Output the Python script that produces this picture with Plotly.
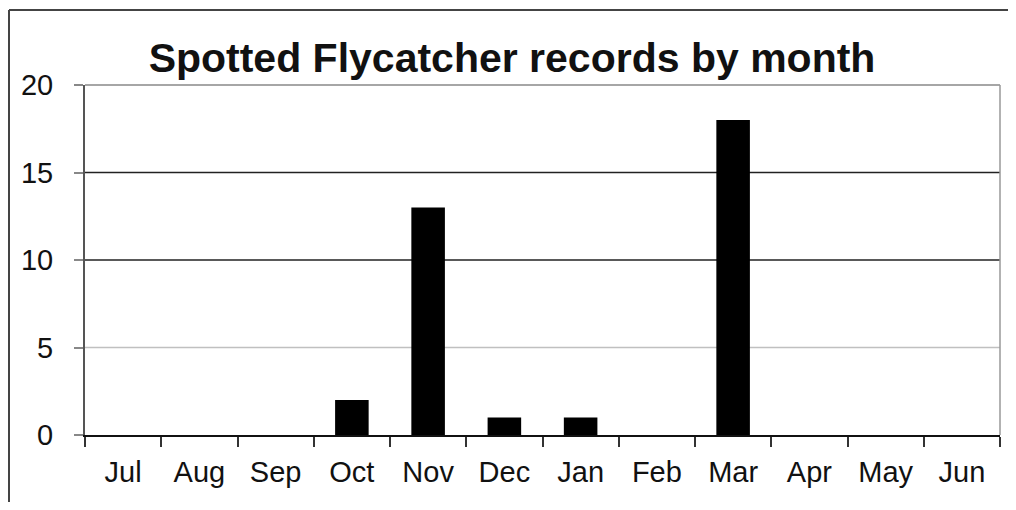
import plotly.graph_objects as go

months = ["Jul", "Aug", "Sep", "Oct", "Nov", "Dec", "Jan", "Feb", "Mar", "Apr", "May", "Jun"]
records = [0, 0, 0, 2, 13, 1, 1, 0, 18, 0, 0, 0]
y_ticks = [0, 5, 10, 15, 20]
dark_grid = [10, 15]
light_grid = [5]

# page has an 8px body margin; figure sized to fit the 1016x510 window
W, H = 1000, 494
ML, MR, MT, MB = 77, 8, 77, 67
pw, ph = W - ML - MR, H - MT - MB

fig = go.Figure(go.Bar(
    x=months, y=records,
    marker=dict(color="black", line=dict(width=0)),
    width=0.44,
))

shapes = []
for v in dark_grid:
    shapes.append(dict(type="line", xref="paper", yref="y", x0=0, x1=1, y0=v, y1=v,
                       line=dict(color="#222", width=1.5), layer="below"))
for v in light_grid:
    shapes.append(dict(type="line", xref="paper", yref="y", x0=0, x1=1, y0=v, y1=v,
                       line=dict(color="#c0c0c0", width=1.5), layer="below"))
# plot area top/right border (gray)
shapes.append(dict(type="line", xref="paper", yref="paper", x0=0, x1=1, y0=1, y1=1,
                   line=dict(color="#888", width=1.5), layer="below"))
shapes.append(dict(type="line", xref="paper", yref="paper", x0=1, x1=1, y0=0, y1=1,
                   line=dict(color="#999", width=1.5), layer="below"))
# outer chart border (left and top, cropped)
bx = (1 - ML) / pw
by = 1 + (MT - 2) / ph
shapes.append(dict(type="line", xref="paper", yref="paper", x0=bx, x1=bx, y0=-1, y1=by,
                   line=dict(color="#444", width=2)))
shapes.append(dict(type="line", xref="paper", yref="paper", x0=bx, x1=1.2, y0=by, y1=by,
                   line=dict(color="#444", width=2)))

fig.update_layout(
    width=W, height=H,
    margin=dict(l=ML, r=MR, t=MT, b=MB),
    paper_bgcolor="white", plot_bgcolor="white",
    showlegend=False,
    font=dict(family="Liberation Sans, Arial, sans-serif", color="#111", size=29),
    title=dict(text="<b>Spotted Flycatcher records by month</b>",
               x=0.504, xanchor="center", y=1 - 50 / H, yanchor="middle",
               font=dict(size=41, color="#111")),
    xaxis=dict(
        type="category", tickson="boundaries", ticks="outside", ticklen=10,
        tickcolor="#333", tickwidth=1.5,
        showline=True, linecolor="#111", linewidth=2,
        showgrid=False, zeroline=False, fixedrange=True,
        tickfont=dict(size=29, color="#111"), ticklabelstandoff=10,
    ),
    yaxis=dict(
        range=[0, 20], tickvals=y_ticks, ticks="outside", ticklen=9,
        tickcolor="#888", tickwidth=1.5,
        showline=True, linecolor="#555", linewidth=2,
        showgrid=False, zeroline=False, fixedrange=True,
        tickfont=dict(size=29, color="#111"), ticklabelstandoff=15,
    ),
    shapes=shapes,
)

fig.write_html("out.html")
